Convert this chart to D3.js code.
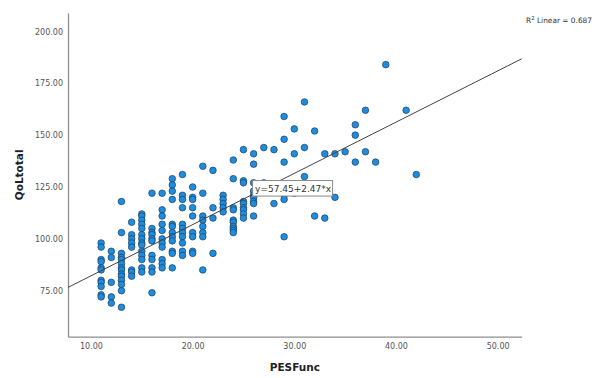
<!DOCTYPE html>
<html>
<head>
<meta charset="utf-8">
<script src="https://cdn.jsdelivr.net/npm/d3@7"></script>
<style>
  body { margin: 0; background: #fff; }
  svg { display: block; font-family: "DejaVu Sans", sans-serif; }
</style>
</head>
<body>
<div id="chart"></div>
<script>
// PESFunc values (one entry per column of points)
const pesFunc = [11, 12, 13, 14, 15, 16, 17, 18, 19, 20, 21, 22, 23, 24, 25, 26, 27, 28, 29, 30, 31, 32, 33, 34, 35, 36, 37, 38, 39, 41, 42];

// QoLtotal values read for each PESFunc column
const qolTotal = [
  [98, 96, 90, 89, 86, 85, 80, 79, 77, 73, 72],
  [94, 91, 79, 72, 69],
  [118, 103, 93, 91, 90, 88, 86, 85, 83, 82, 80, 78, 75, 67],
  [108, 102, 100, 98, 96, 85, 84, 82],
  [112, 111, 109, 107, 105, 102, 100, 98, 97, 94, 92, 90, 86, 84],
  [122, 105, 103, 102, 100, 99, 92, 90, 86, 84, 74],
  [122, 114, 111, 107, 104, 100, 98, 96, 90, 88, 86],
  [129, 126, 123, 119, 107, 106, 103, 101, 99, 94, 93, 86],
  [131, 121, 119, 115, 107, 105, 103, 101, 98, 94, 92],
  [125, 120, 119, 115, 111, 103, 101, 94, 93],
  [135, 122, 111, 109, 106, 103, 101, 85],
  [133, 115, 110, 93],
  [121, 119, 117, 115, 113],
  [138, 129, 115, 114, 109, 108, 106, 105, 104, 103],
  [143, 128, 127, 118, 117, 115, 114, 112, 110],
  [141, 136, 127, 123, 121, 120, 118, 117, 111],
  [144, 127],
  [143, 117],
  [159, 148, 137, 121, 119, 101],
  [153, 141, 122],
  [166, 144, 130],
  [152, 111],
  [141, 110],
  [141, 120],
  [142],
  [155, 150, 137],
  [162, 142],
  [137],
  [184],
  [162],
  [131]
];

const xTicks = [10, 20, 30, 40, 50];
const yTicks = [75, 100, 125, 150, 175, 200];

// fit line
const intercept = 57.45;
const slope = 2.47;
const rSquared = 0.687;

const width = 595, height = 378;
const plot = { left: 68, right: 521.7, top: 13, bottom: 336.7 };

const points = pesFunc.flatMap((x, i) => qolTotal[i].map(y => ({ x, y })));

const svg = d3.select('#chart')
  .append('svg')
  .attr('width', width)
  .attr('height', height);

const xScale = d3.scaleLinear()
  .domain([7.74, 52.37])
  .range([plot.left, plot.right]);

const yScale = d3.scaleLinear()
  .domain([52.8, 208.9])
  .range([plot.bottom, plot.top]);

// x axis
const xAxis = svg.append('g')
  .attr('transform', `translate(0,${plot.bottom})`)
  .call(d3.axisBottom(xScale)
    .tickValues(xTicks)
    .tickSize(0)
    .tickPadding(7)
    .tickFormat(d3.format('.2f')));

// y axis
const yAxis = svg.append('g')
  .attr('transform', `translate(${plot.left},0)`)
  .call(d3.axisLeft(yScale)
    .tickValues(yTicks)
    .tickSize(0)
    .tickPadding(5)
    .tickFormat(d3.format('.2f')));

[xAxis, yAxis].forEach(g => {
  g.select('.domain').attr('stroke', '#8e8e8e').attr('stroke-width', 1.3);
  g.selectAll('text').attr('font-size', 8).attr('fill', '#555')
    .attr('font-family', '"DejaVu Sans", sans-serif');
});

// axis titles
svg.append('text')
  .attr('x', (plot.left + plot.right) / 2)
  .attr('y', 371)
  .attr('text-anchor', 'middle')
  .attr('font-size', 10.5)
  .attr('font-weight', 'bold')
  .attr('fill', '#222')
  .text('PESFunc');

svg.append('text')
  .attr('transform', `translate(23,${(plot.top + plot.bottom) / 2}) rotate(-90)`)
  .attr('text-anchor', 'middle')
  .attr('font-size', 10.5)
  .attr('font-weight', 'bold')
  .attr('fill', '#222')
  .text('QoLtotal');

// points
svg.append('g')
  .selectAll('circle')
  .data(points)
  .enter()
  .append('circle')
  .attr('cx', d => xScale(d.x))
  .attr('cy', d => yScale(d.y))
  .attr('r', 3.3)
  .attr('fill', '#1d8de0')
  .attr('stroke', '#1f3d5c')
  .attr('stroke-width', 0.7);

// regression line
const [x0, x1] = xScale.domain();
svg.append('line')
  .attr('x1', xScale(x0))
  .attr('y1', yScale(intercept + slope * x0))
  .attr('x2', xScale(x1))
  .attr('y2', yScale(intercept + slope * x1))
  .attr('stroke', '#444')
  .attr('stroke-width', 1);

// equation label
const eq = svg.append('g')
  .attr('transform', `translate(${xScale(25.9)},${yScale(128.1)})`);
eq.append('rect')
  .attr('width', 80)
  .attr('height', 15.5)
  .attr('fill', '#fff')
  .attr('stroke', '#888')
  .attr('stroke-width', 1);
eq.append('text')
  .attr('x', 2.5)
  .attr('y', 11.5)
  .attr('font-size', 9)
  .attr('fill', '#333')
  .text(`y=${intercept.toFixed(2)}+${slope.toFixed(2)}*x`);

// R squared
const r2 = svg.append('text')
  .attr('x', 526)
  .attr('y', 23)
  .attr('font-size', 7.4)
  .attr('fill', '#333');
r2.append('tspan').text('R');
r2.append('tspan').attr('font-size', 5.5).attr('dy', -3.2).text('2');
r2.append('tspan').attr('dy', 3.2).text(` Linear = ${rSquared.toFixed(3)}`);
</script>
</body>
</html>
